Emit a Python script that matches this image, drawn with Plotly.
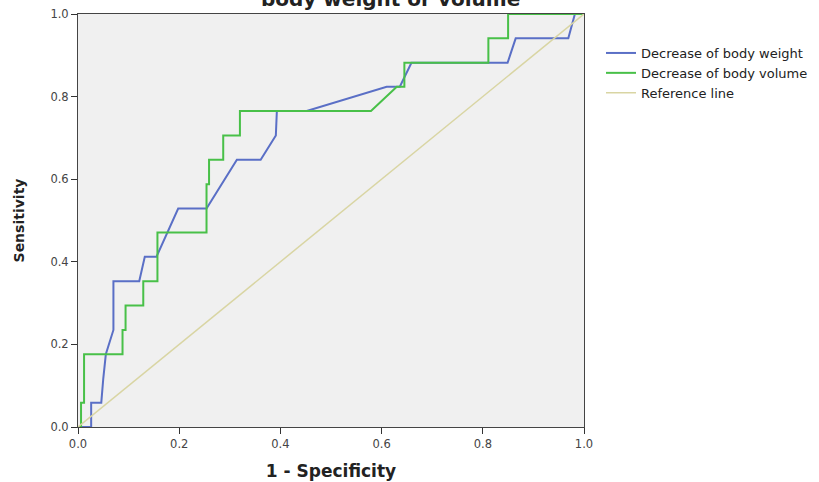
import plotly.graph_objects as go

# Decrease of body weight ROC points
weight_fpr = [0, 0.026, 0.026, 0.046, 0.050, 0.055, 0.070, 0.070, 0.121, 0.132, 0.155, 0.198,
              0.254, 0.314, 0.361, 0.391, 0.393, 0.452, 0.610, 0.636, 0.659, 0.849, 0.865,
              0.969, 0.982, 1.0]
weight_tpr = [0, 0, 0.059, 0.059, 0.118, 0.176, 0.235, 0.353, 0.353, 0.412, 0.412, 0.529,
              0.529, 0.647, 0.647, 0.706, 0.765, 0.765, 0.824, 0.824, 0.882, 0.882, 0.941,
              0.941, 1.0, 1.0]

# Decrease of body volume ROC points
volume_fpr = [0, 0.006, 0.006, 0.012, 0.012, 0.088, 0.088, 0.094, 0.094, 0.129, 0.129, 0.157,
              0.157, 0.254, 0.254, 0.259, 0.259, 0.287, 0.287, 0.320, 0.320, 0.579, 0.630,
              0.645, 0.645, 0.811, 0.811, 0.850, 0.850, 1.0]
volume_tpr = [0, 0, 0.059, 0.059, 0.176, 0.176, 0.235, 0.235, 0.294, 0.294, 0.353, 0.353,
              0.471, 0.471, 0.588, 0.588, 0.647, 0.647, 0.706, 0.706, 0.765, 0.765, 0.824,
              0.824, 0.882, 0.882, 0.941, 0.941, 1.0, 1.0]

ref_x = [0, 1]
ref_y = [0, 1]

tick_vals = [0.0, 0.2, 0.4, 0.6, 0.8, 1.0]
tick_text = ["0.0", "0.2", "0.4", "0.6", "0.8", "1.0"]

FONT = "DejaVu Sans, Verdana, sans-serif"

fig = go.Figure()
fig.add_trace(go.Scatter(x=weight_fpr, y=weight_tpr, mode="lines",
                         name="Decrease of body weight",
                         line=dict(color="#5a6fc6", width=2)))
fig.add_trace(go.Scatter(x=volume_fpr, y=volume_tpr, mode="lines",
                         name="Decrease of body volume",
                         line=dict(color="#48c048", width=2)))
fig.add_trace(go.Scatter(x=ref_x, y=ref_y, mode="lines",
                         name="Reference line",
                         line=dict(color="#d9d5a3", width=1.5)))

axis_common = dict(range=[0, 1], tickvals=tick_vals, ticktext=tick_text,
                   showgrid=False, zeroline=False, showline=True, linecolor="#444",
                   linewidth=1, mirror=True, ticks="outside", ticklen=6,
                   tickcolor="#333", tickfont=dict(family=FONT, size=11.5, color="#444"))

fig.update_layout(
    width=819, height=482,
    margin=dict(l=78, r=235, t=14, b=55, autoexpand=False),
    paper_bgcolor="white",
    plot_bgcolor="#f0f0f0",
    font=dict(family=FONT, color="#222"),
    xaxis=dict(**axis_common,
               title=dict(text="<b>1 - Specificity</b>", font=dict(size=17, color="#222"), standoff=15)),
    yaxis=dict(**axis_common,
               title=dict(text="<b>Sensitivity</b>", font=dict(size=14, color="#222"), standoff=22)),
    legend=dict(xref="container", yref="container", x=601 / 819, y=1 - 38 / 482,
                xanchor="left", yanchor="top",
                font=dict(family=FONT, size=13, color="#222"),
                bgcolor="rgba(0,0,0,0)", itemwidth=30, tracegroupgap=0),
    showlegend=True,
    annotations=[dict(text="<b>body weight or volume</b>", xref="paper", yref="paper",
                      x=(390 - 78) / 506, y=1 + 15 / 413, xanchor="center", yanchor="middle",
                      showarrow=False, font=dict(family=FONT, size=20, color="#222"))],
)

fig.write_html("out.html")
